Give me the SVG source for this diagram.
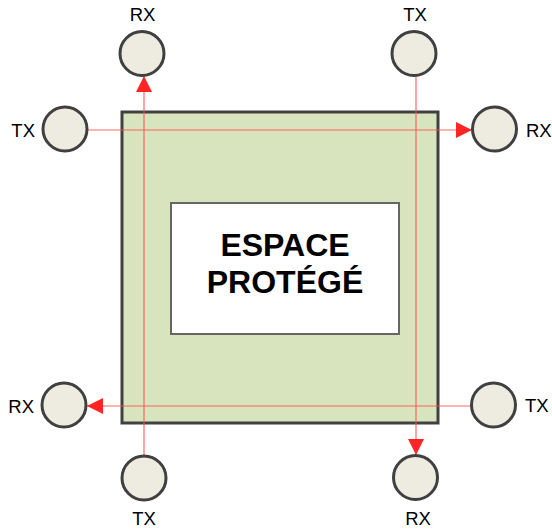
<svg xmlns="http://www.w3.org/2000/svg" width="552" height="531" viewBox="0 0 552 531">
<style>
.node circle{fill:#eeece1;stroke:#404040;stroke-width:3}
.lbl{font-family:"Liberation Sans",Arial,sans-serif;font-size:18.5px;fill:#000}
.link{stroke:#ff5050;stroke-width:1.2;fill:none;opacity:0.85}
.title{font-family:"Liberation Sans",Arial,sans-serif;font-size:32px;font-weight:bold;fill:#000;text-anchor:middle}
</style>
<defs>
<marker id="ah" viewBox="0 0 16 16" refX="16" refY="8" markerWidth="16" markerHeight="16" markerUnits="userSpaceOnUse" orient="auto">
<path d="M0,0 L16,8 L0,16 Z" fill="#ff0000"/>
</marker>
</defs>
<g id="zone">
<rect x="122" y="112" width="316" height="311" fill="#d7e4bd" stroke="#404040" stroke-width="3"/>
</g>
<g id="espace">
<rect x="171" y="203" width="228" height="131" fill="#ffffff" stroke="#666666" stroke-width="2"/>
<text class="title" x="285" y="256">ESPACE</text>
<text class="title" x="285" y="293">PROTÉGÉ</text>
</g>
<g id="connectors">
<line class="link" x1="144" y1="456" x2="144" y2="76" marker-end="url(#ah)"/>
<line class="link" x1="416" y1="75" x2="416" y2="455" marker-end="url(#ah)"/>
<line class="link" x1="88" y1="130" x2="472" y2="130" marker-end="url(#ah)"/>
<line class="link" x1="471" y1="406" x2="87" y2="406" marker-end="url(#ah)"/>
</g>
<g id="rx-top" class="node"><circle cx="142" cy="53.5" r="22"/><text class="lbl" x="142.5" y="21" text-anchor="middle">RX</text></g>
<g id="tx-top" class="node"><circle cx="414" cy="53.5" r="22"/><text class="lbl" x="415" y="21" text-anchor="middle">TX</text></g>
<g id="tx-left" class="node"><circle cx="65" cy="129" r="22"/><text class="lbl" x="35" y="137" text-anchor="end">TX</text></g>
<g id="rx-right" class="node"><circle cx="494.5" cy="129" r="22"/><text class="lbl" x="526" y="137">RX</text></g>
<g id="rx-left" class="node"><circle cx="64" cy="405" r="22"/><text class="lbl" x="34" y="413" text-anchor="end">RX</text></g>
<g id="tx-right" class="node"><circle cx="493.5" cy="405" r="22"/><text class="lbl" x="525" y="412">TX</text></g>
<g id="tx-bottom" class="node"><circle cx="144" cy="478" r="22"/><text class="lbl" x="144" y="525" text-anchor="middle">TX</text></g>
<g id="rx-bottom" class="node"><circle cx="415.5" cy="477.5" r="22"/><text class="lbl" x="418" y="525" text-anchor="middle">RX</text></g>
</svg>
